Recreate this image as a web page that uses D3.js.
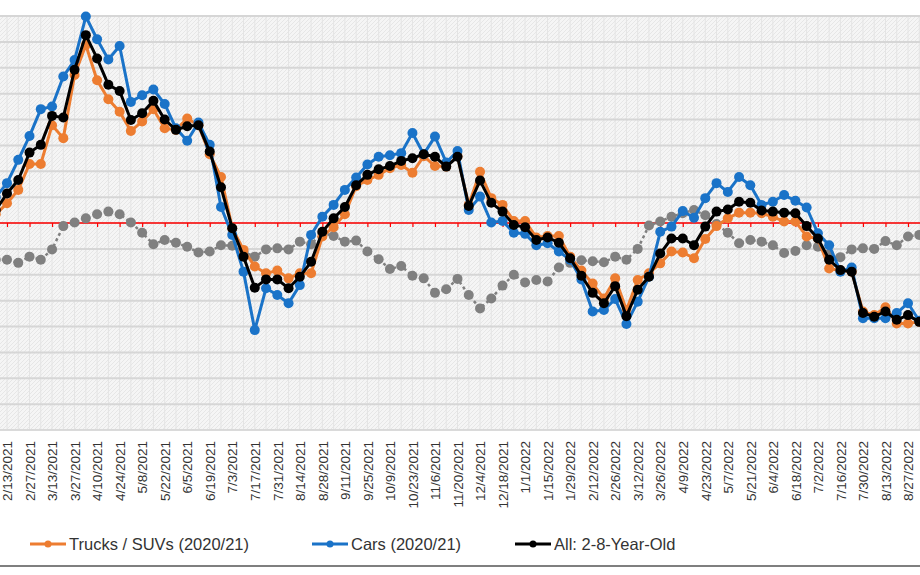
<html>
<head>
<script src="https://d3js.org/d3.v7.min.js"></script>
<style>
    body { margin: 0; background: #fff; }
    text { font-family: "Liberation Sans", Arial, sans-serif; }
</style>
</head>
<body>
<svg id="chart" width="920" height="575"></svg>
<script>
    // weekly categories, 2/6/2021 .. 9/3/2022 (first one sits just off the left edge)
    const weeks = d3.utcDay.range(new Date(Date.UTC(2021, 1, 6)), new Date(Date.UTC(2022, 8, 4)), 7);

    const tickLabels = ['2/13/2021', '2/27/2021', '3/13/2021', '3/27/2021', '4/10/2021', '4/24/2021',
        '5/8/2021', '5/22/2021', '6/5/2021', '6/19/2021', '7/3/2021', '7/17/2021', '7/31/2021',
        '8/14/2021', '8/28/2021', '9/11/2021', '9/25/2021', '10/9/2021', '10/23/2021', '11/6/2021',
        '11/20/2021', '12/4/2021', '12/18/2021', '1/1/2022', '1/15/2022', '1/29/2022', '2/12/2022',
        '2/26/2022', '3/12/2022', '3/26/2022', '4/9/2022', '4/23/2022', '5/7/2022', '5/21/2022',
        '6/4/2022', '6/18/2022', '7/2/2022', '7/16/2022', '7/30/2022', '8/13/2022', '8/27/2022'];

    const trucks = [1.7, 3.8, 6.4, 11.4, 11.4, 18.9, 16.4, 28.6, 34.4, 27.6, 23.9,
        21.5, 17.8, 19.6, 22.0, 18.3, 18.0, 20.2, 18.9, 13.3, 8.9,
        -1.0, -5.2, -8.4, -9.7, -9.2, -10.7, -9.7, -9.7, -2.6, -0.8,
        1.7, 7.1, 8.3, 9.3, 10.6, 11.2, 9.7, 12.9, 11.0, 10.9,
        12.9, 3.5, 9.9, 4.8, 3.5, 0.4, 0.4, -2.8, -2.5, -2.5,
        -6.5, -9.2, -11.7, -14.6, -10.7, -16.8, -11.0, -9.7, -7.8, -5.5,
        -5.7, -6.8, -3.1, -0.6, 0.9, 2.0, 2.0, 1.9, 1.2, 0.3,
        0.3, -2.6, -3.0, -8.8, -9.2, -9.4, -17.1, -17.8, -16.3, -19.4,
        -19.4, -19.1];

    const cars = [5.0, 7.7, 12.2, 16.8, 22.0, 22.5, 28.3, 31.5, 39.9, 35.5, 31.6,
        34.2, 23.4, 24.7, 25.8, 23.0, 18.3, 15.9, 19.4, 15.1, 3.1,
        -2.3, -9.4, -20.7, -12.6, -13.9, -15.5, -12.0, -2.3, 1.2, 3.5,
        6.4, 8.8, 11.3, 12.8, 13.1, 13.5, 17.4, 13.3, 16.7, 11.7,
        13.9, 2.5, 5.1, 0.1, 0.4, -1.9, -2.1, -4.3, -3.9, -5.5,
        -7.1, -10.9, -17.1, -16.8, -14.7, -19.5, -15.2, -10.4, -1.7, -0.7,
        2.3, 1.0, 4.8, 7.7, 6.0, 8.9, 7.3, 3.5, 4.1, 5.4,
        4.3, 3.0, -2.0, -4.3, -9.4, -8.6, -18.4, -18.4, -18.4, -17.4,
        -15.5, -18.9];

    const allAges = [2.5, 5.7, 8.3, 13.6, 15.1, 20.7, 20.4, 29.6, 36.3, 31.8, 26.7,
        25.5, 19.9, 21.2, 23.6, 20.0, 18.0, 18.7, 18.9, 13.8, 6.9,
        -1.0, -6.5, -12.5, -10.9, -10.9, -12.6, -10.4, -7.5, -1.7, 0.9,
        3.1, 7.3, 9.3, 10.4, 11.0, 12.0, 12.5, 13.3, 12.8, 10.9,
        12.8, 3.3, 8.2, 3.9, 2.2, -0.4, -0.8, -3.3, -2.8, -3.8,
        -6.8, -10.2, -13.5, -15.5, -12.2, -18.0, -12.9, -10.4, -5.9, -3.0,
        -3.0, -4.3, -0.7, 2.2, 2.6, 4.1, 3.9, 2.4, 2.2, 2.0,
        1.9, -0.6, -3.0, -7.1, -9.1, -9.4, -17.4, -18.1, -17.1, -18.7,
        -17.8, -19.1];

    const prior = [-7.1, -7.1, -7.7, -6.5, -7.1, -5.1, -0.6, 0.1, 0.9, 1.7, 2.2,
        1.7, 0.1, -1.9, -4.1, -3.3, -3.8, -4.6, -5.7, -5.5, -4.3,
        -4.4, -5.6, -6.5, -5.1, -4.9, -5.1, -3.6, -4.1, -1.9, -2.5,
        -3.6, -3.4, -5.5, -7.0, -8.9, -8.3, -10.2, -10.7, -13.5, -12.8,
        -10.8, -13.9, -16.5, -14.6, -12.1, -10.0, -11.5, -11.0, -11.3, -8.6,
        -7.7, -7.2, -7.4, -7.6, -6.5, -7.1, -5.0, -0.5, 0.3, 1.2,
        1.9, 2.5, 1.5, -0.2, -1.9, -3.9, -3.3, -3.6, -4.3, -5.8,
        -5.4, -4.3, -4.6, -6.0, -6.6, -5.1, -4.9, -5.0, -3.5, -4.3,
        -2.6, -2.3];

    const yTicks = d3.range(-40, 41, 5);

    const svg = d3.select('#chart');
    const parse = d3.utcParse('%m/%d/%Y');

    const plotTop = 16, plotBottom = 430;

    const x = d3.scaleUtc()
        .domain([parse('2/13/2021'), parse('8/27/2022')])
        .range([7, 908]);

    const y = d3.scaleLinear()
        .domain([-40, 40])
        .range([plotBottom, plotTop]);

    // hatched plot background
    const defs = svg.append('defs');
    const pat = defs.append('pattern')
        .attr('id', 'hatch')
        .attr('patternUnits', 'userSpaceOnUse')
        .attr('width', 4).attr('height', 4);
    pat.append('rect').attr('width', 4).attr('height', 4).attr('fill', '#f5f5f5');
    pat.append('path').attr('d', 'M-1,1 l2,-2 M0,4 l4,-4 M3,5 l2,-2')
        .attr('stroke', '#e6e6e6').attr('stroke-width', 1);

    svg.append('rect')
        .attr('x', 0).attr('y', plotTop)
        .attr('width', 920).attr('height', plotBottom - plotTop)
        .attr('fill', 'url(#hatch)');

    // weekly vertical grid
    svg.append('g')
        .selectAll('line')
        .data(weeks)
        .join('line')
        .attr('x1', d => x(d)).attr('x2', d => x(d))
        .attr('y1', plotTop).attr('y2', plotBottom)
        .attr('stroke', '#e4e4e4')
        .attr('stroke-width', 1);

    // horizontal grid
    svg.append('g')
        .selectAll('line')
        .data(yTicks)
        .join('line')
        .attr('x1', 0).attr('x2', 920)
        .attr('y1', d => y(d)).attr('y2', d => y(d))
        .attr('stroke', '#d6d6d6')
        .attr('stroke-width', 2);

    // zero line with ticks
    const zeroAxis = svg.append('g')
        .attr('transform', `translate(0, ${y(0)})`)
        .call(d3.axisBottom(x)
            .tickValues(tickLabels.map(parse))
            .tickSize(4)
            .tickFormat(''));
    zeroAxis.select('.domain').attr('stroke', '#ff0000').attr('stroke-width', 1.5)
        .attr('d', 'M0,0H920');
    zeroAxis.selectAll('.tick line').attr('stroke', '#ff0000').attr('stroke-width', 1.2);

    // category labels
    const labelAxis = svg.append('g')
        .attr('transform', `translate(0, ${plotBottom})`)
        .call(d3.axisBottom(x)
            .tickValues(tickLabels.map(parse))
            .tickSize(0)
            .tickFormat(d3.utcFormat('%-m/%-d/%Y')));
    labelAxis.select('.domain').attr('stroke', '#dddddd').attr('d', 'M0,0H920');
    labelAxis.selectAll('.tick text')
        .attr('transform', 'rotate(-90)')
        .attr('x', -11)
        .attr('y', 0)
        .attr('dy', '0.35em')
        .attr('text-anchor', 'end')
        .attr('fill', '#333')
        .attr('font-size', 13.5)
        .attr('font-family', '"Liberation Sans", Arial, sans-serif');

    const series = [
        { values: prior, color: '#808080', width: 2.5, dash: '3,3' },
        { values: trucks, color: '#ed7d31', width: 3 },
        { values: cars, color: '#1a73c8', width: 3 },
        { values: allAges, color: '#000000', width: 3 }
    ];

    const line = d3.line()
        .x((d, i) => x(weeks[i]))
        .y(d => y(d));

    series.forEach(s => {
        const g = svg.append('g');
        g.append('path')
            .datum(s.values)
            .attr('fill', 'none')
            .attr('stroke', s.color)
            .attr('stroke-width', s.width)
            .attr('stroke-dasharray', s.dash || null)
            .attr('stroke-linejoin', 'round')
            .attr('d', line);
        g.selectAll('circle')
            .data(s.values)
            .join('circle')
            .attr('cx', (d, i) => x(weeks[i]))
            .attr('cy', d => y(d))
            .attr('r', 5)
            .attr('fill', s.color);
    });

    // legend
    const legendItems = [
        { label: 'Trucks / SUVs (2020/21)', color: '#ed7d31', x: 30 },
        { label: 'Cars (2020/21)', color: '#1a73c8', x: 312 },
        { label: 'All: 2-8-Year-Old', color: '#000000', x: 515 }
    ];
    const legend = svg.append('g').attr('transform', 'translate(0, 544)');
    legendItems.forEach(item => {
        const g = legend.append('g').attr('transform', `translate(${item.x}, 0)`);
        g.append('line')
            .attr('x1', 0).attr('x2', 36)
            .attr('stroke', item.color).attr('stroke-width', 3);
        g.append('circle').attr('cx', 18).attr('r', 3.5).attr('fill', item.color);
        g.append('text')
            .attr('x', 39)
            .attr('dy', '0.35em')
            .attr('font-size', 16.5)
            .attr('fill', '#333')
            .text(item.label);
    });

    // outer border at the bottom
    svg.append('line')
        .attr('x1', 0).attr('x2', 920)
        .attr('y1', 566).attr('y2', 566)
        .attr('stroke', '#7f7f7f')
        .attr('stroke-width', 2);
</script>
</body>
</html>
